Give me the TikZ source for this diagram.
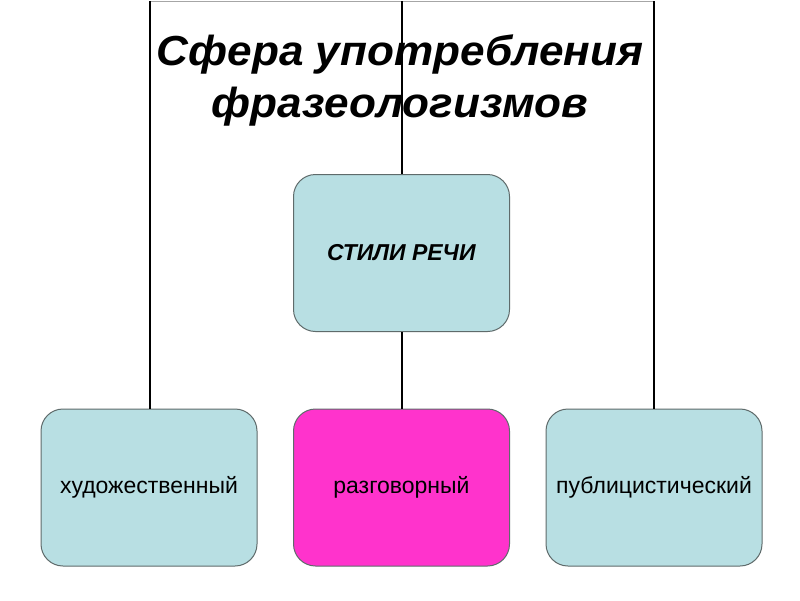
\documentclass[tikz,border=0pt]{standalone}
\usepackage{fontspec}
\setmainfont{Liberation Sans}
\definecolor{paleblue}{HTML}{B8DFE3}
\definecolor{hotpink}{HTML}{FF33CC}
\definecolor{boxline}{HTML}{5F6B6B}
\begin{document}
\begin{tikzpicture}[x=1pt,y=-1pt,
  box/.style={draw=boxline,line width=1pt,rounded corners=22pt,minimum width=216pt,minimum height=157pt,inner sep=0pt,fill=paleblue,font=\fontsize{23}{27}\selectfont},
  link/.style={draw=black,line width=1.4pt},
  frame/.style={draw=gray!70,line width=0.8pt}]
\useasboundingbox[fill=white] (0,0) rectangle (800,600);
\coordinate (tl) at (150,1);
\coordinate (tm) at (402,1);
\coordinate (tr) at (654,1);
\node[box] (center) at (401.5,253) {\textbf{\textit{СТИЛИ РЕЧИ}}};
\node[box] (left) at (149,487.5) {художественный};
\node[box,fill=hotpink] (mid) at (401.5,487.5) {разговорный};
\node[box] (right) at (654,487.5) {публицистический};
\draw[frame] (tl) -- (tr);
\draw[link] (tl) -- (tl |- left.north);
\draw[link] (tr) -- (tr |- right.north);
\draw[link] (tm) -- (tm |- center.north);
\draw[link] (tm |- center.south) -- (tm |- mid.north);
\node[align=center,font=\fontsize{42}{52}\selectfont\bfseries\itshape,xscale=1.05] (title) at (400,80) {Сфера употребления\\фразеологизмов};
\end{tikzpicture}
\end{document}
